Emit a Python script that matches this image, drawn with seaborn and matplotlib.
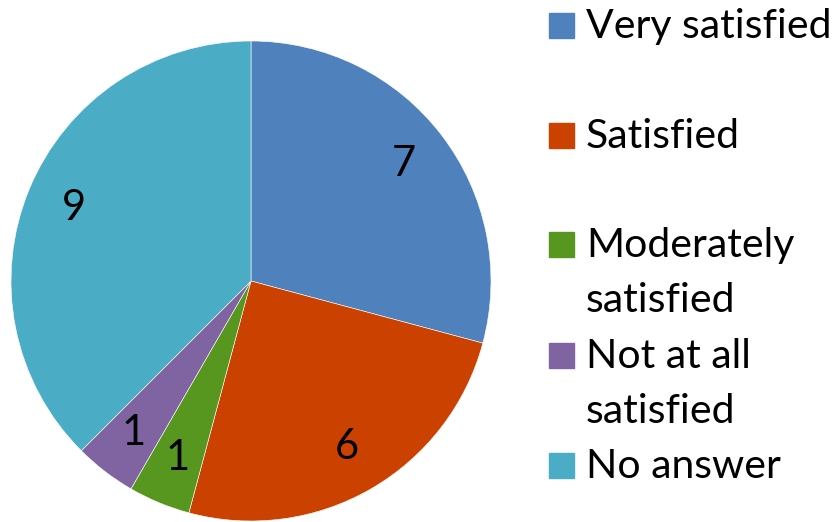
import numpy as np
import matplotlib
matplotlib.use("Agg")
import matplotlib.pyplot as plt
import seaborn as sns
from matplotlib.patches import Rectangle

# survey answers
categories = ["Very satisfied", "Satisfied", "Moderately satisfied",
              "Not at all satisfied", "No answer"]
legend_lines = [["Very satisfied"], ["Satisfied"], ["Moderately", "satisfied"],
                ["Not at all", "satisfied"], ["No answer"]]
counts = [7, 6, 1, 1, 9]
colors = ["#4F81BD", "#CB4100", "#57961F", "#8064A2", "#4BACC6"]

sns.set_theme(style="white")
plt.rcParams["font.family"] = ["Lato", "DejaVu Sans"]

W, H = 835, 522
fig = plt.figure(figsize=(W / 100, H / 100), dpi=100)

# pie: centre (251, 281) px, radius 240 px
cx, cy, r = 251, 281, 240
ax = fig.add_axes([(cx - r) / W, (H - cy - r) / H, 2 * r / W, 2 * r / H])
wedges, texts = ax.pie(counts, colors=colors, startangle=90, counterclock=False,
                       labels=[str(c) for c in counts], labeldistance=0.80,
                       wedgeprops=dict(edgecolor="white", linewidth=0.4),
                       textprops=dict(fontsize=30, color="black", va="center", ha="center"))
ax.set_xlim(-1, 1)
ax.set_ylim(-1, 1)
ax.set_aspect("equal")
ax.axis("off")

# legend drawn by hand to mimic the uneven spacing
baselines = [[38], [148], [257, 312], [368, 423], [478]]
for lines, base, col in zip(legend_lines, baselines, colors):
    y0 = base[0]
    fig.patches.append(Rectangle((549 / W, 1 - y0 / H), 25 / W, 25 / H,
                                 transform=fig.transFigure, color=col))
    for txt, yb in zip(lines, base):
        fig.text(586 / W, 1 - yb / H, txt, fontsize=29.5, va="baseline", ha="left",
                 color="black")

fig.savefig("out.png", dpi=100)
